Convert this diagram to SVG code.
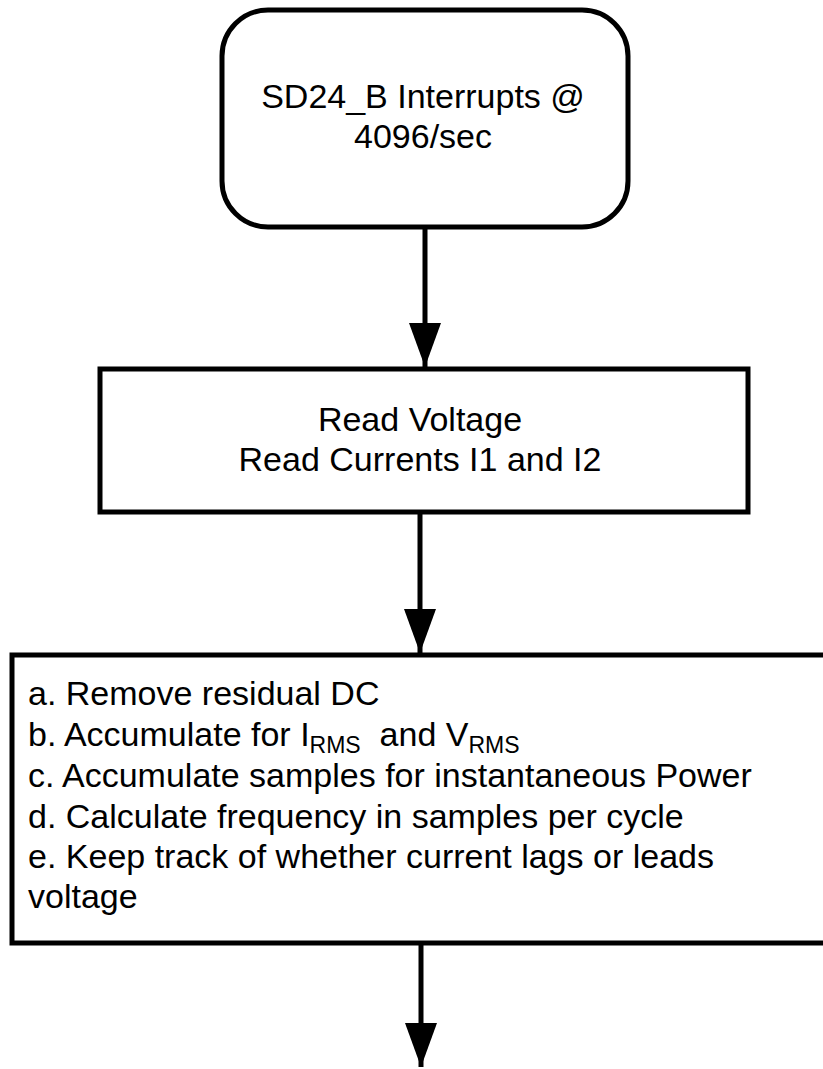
<svg xmlns="http://www.w3.org/2000/svg" width="823" height="1069" viewBox="0 0 823 1069">
  <style>
    .box { fill: #ffffff; stroke: #000000; stroke-width: 5; }
    .lbl { font-family: "Liberation Sans", Arial, sans-serif; font-size: 34px; fill: #000000; }
    .ctr { text-anchor: middle; }
    .sub { font-size: 23px; }
    .wire { stroke: #000000; stroke-width: 5; fill: none; }
  </style>
  <defs>
    <marker id="arrowhead" markerUnits="userSpaceOnUse" markerWidth="46" markerHeight="34" refX="44" refY="16" orient="auto">
      <path d="M0,0 L44,16 L0,32 Z" fill="#000000"/>
    </marker>
  </defs>
  <rect width="823" height="1069" fill="#ffffff"/>

  <!-- flow connectors -->
  <g id="connectors">
    <line class="wire" x1="425" y1="227" x2="425" y2="367" marker-end="url(#arrowhead)"/>
    <line class="wire" x1="420" y1="512" x2="420" y2="653" marker-end="url(#arrowhead)"/>
    <line class="wire" x1="421" y1="943" x2="421" y2="1067" marker-end="url(#arrowhead)"/>
  </g>

  <!-- interrupt entry point -->
  <g id="node-interrupt">
    <rect class="box" x="222" y="10" width="406" height="217" rx="46" ry="46"/>
    <text class="lbl ctr" x="423" y="108">SD24_B Interrupts @</text>
    <text class="lbl ctr" x="423" y="148">4096/sec</text>
  </g>

  <!-- sampling step -->
  <g id="node-read">
    <rect class="box" x="100" y="369" width="648" height="143"/>
    <text class="lbl ctr" x="420" y="431">Read Voltage</text>
    <text class="lbl ctr" x="420" y="471">Read Currents I1 and I2</text>
  </g>

  <!-- per-sample processing -->
  <g id="node-process">
    <rect class="box" x="12" y="655" width="830" height="288"/>
    <text class="lbl" x="28" y="705">a. Remove residual DC</text>
    <text class="lbl" x="28" y="746" xml:space="preserve">b. Accumulate for I<tspan class="sub" dy="7">RMS</tspan><tspan dy="-7">  and V</tspan><tspan class="sub" dy="7">RMS</tspan></text>
    <text class="lbl" x="28" y="787">c. Accumulate samples for instantaneous Power</text>
    <text class="lbl" x="28" y="828">d. Calculate frequency in samples per cycle</text>
    <text class="lbl" x="28" y="868">e. Keep track of whether current lags or leads</text>
    <text class="lbl" x="28" y="908">voltage</text>
  </g>
</svg>
